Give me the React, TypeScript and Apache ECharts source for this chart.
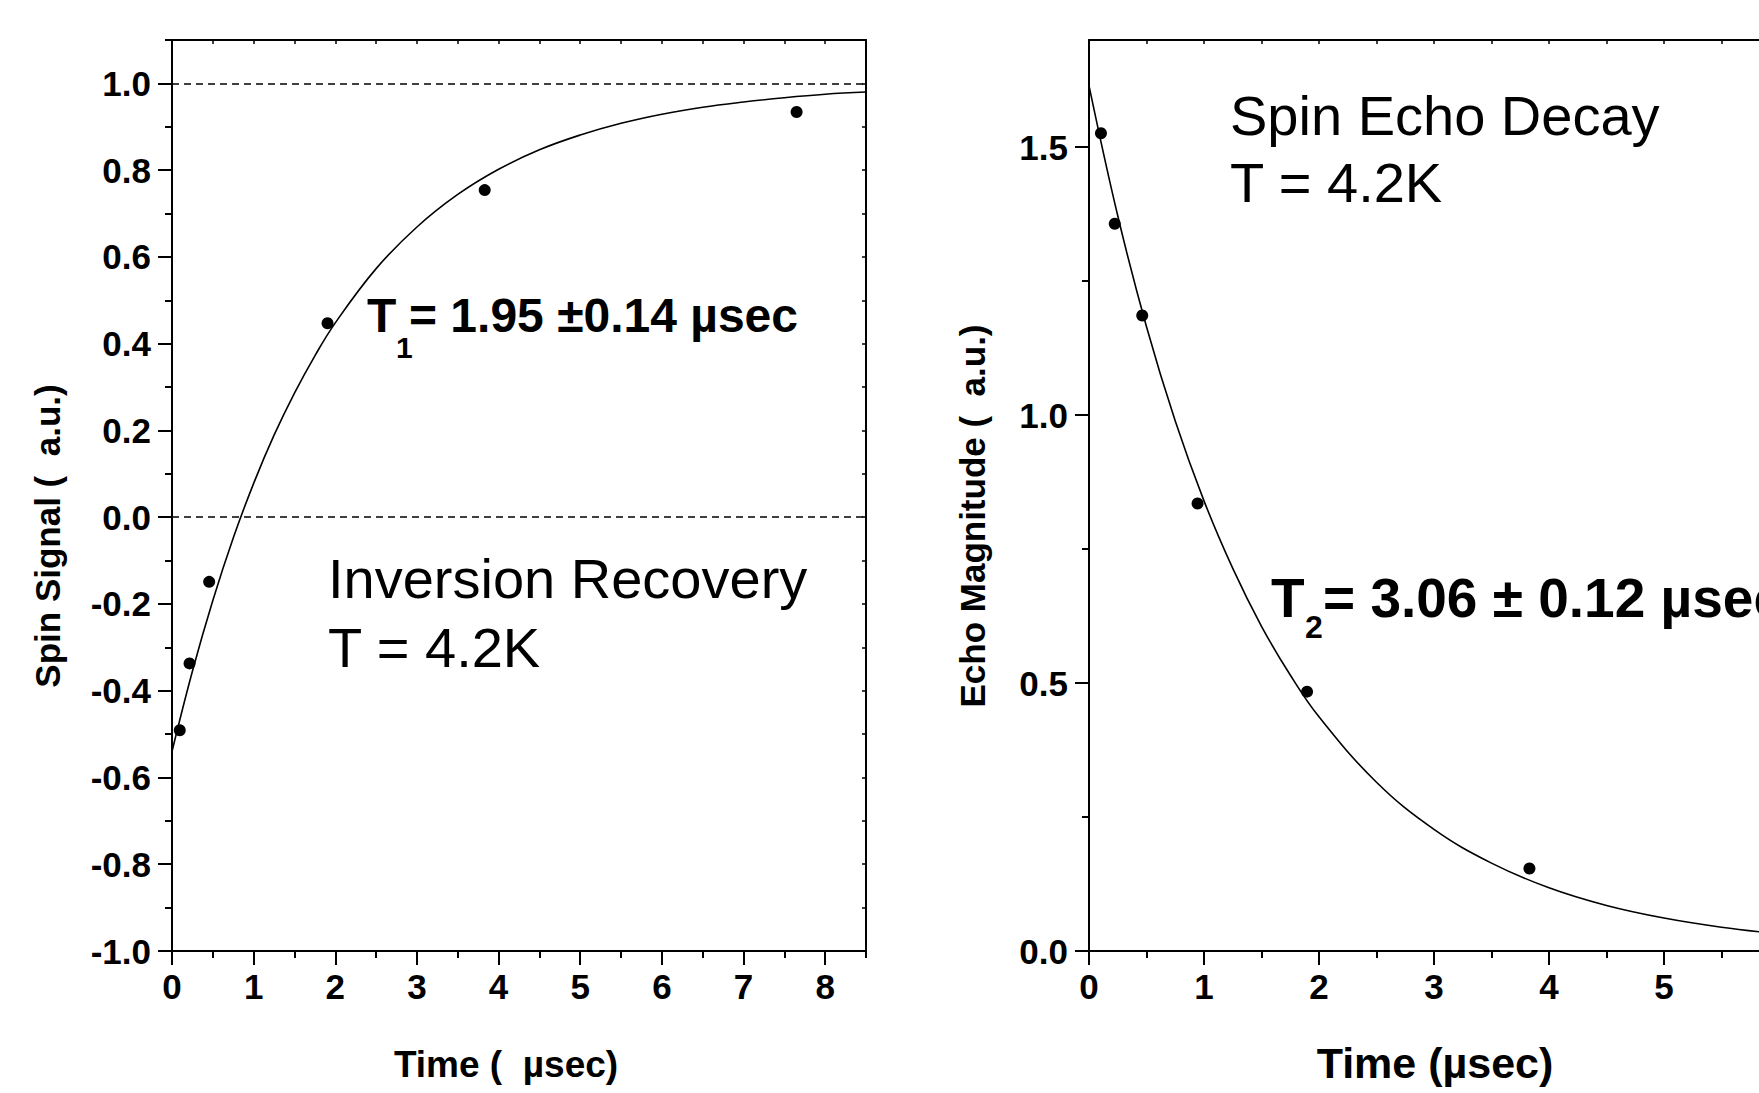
import React, { useEffect, useRef } from "react";
import * as echarts from "echarts";

// ---- Inversion recovery (left panel) ----
const irTime = [0.095, 0.215, 0.455, 1.905, 3.83, 7.65];
const irSignal = [-0.491, -0.337, -0.149, 0.447, 0.754, 0.934];
const irFitTime = [0, 0.25, 0.5, 0.75, 1, 1.25, 1.5, 1.75, 2, 2.5, 3, 3.5, 4, 4.5, 5, 5.5, 6, 6.5, 7, 7.5, 8, 8.5];
const irFitSignal = [-0.54, -0.355, -0.192, -0.048, 0.078, 0.189, 0.286, 0.372, 0.448, 0.573, 0.669, 0.744, 0.802, 0.847, 0.881, 0.908, 0.929, 0.945, 0.957, 0.967, 0.975, 0.98];
const irDashedLevels = [1.0, 0.0];
const irXTicks = [0, 1, 2, 3, 4, 5, 6, 7, 8];
const irXMinor = [0.5, 1.5, 2.5, 3.5, 4.5, 5.5, 6.5, 7.5, 8.5];
const irXTop = [0.5, 1, 1.5, 2, 2.5, 3, 3.5, 4, 4.5, 5, 5.5, 6, 6.5, 7, 7.5, 8];
const irYTicks = [-1.0, -0.8, -0.6, -0.4, -0.2, 0.0, 0.2, 0.4, 0.6, 0.8, 1.0];
const irYMinor = [-0.9, -0.7, -0.5, -0.3, -0.1, 0.1, 0.3, 0.5, 0.7, 0.9, 1.1];
const irYRight = [-0.9, -0.8, -0.7, -0.6, -0.5, -0.4, -0.3, -0.2, -0.1, 0.0, 0.1, 0.2, 0.3, 0.4, 0.5, 0.6, 0.7, 0.8, 0.9, 1.0];

// ---- Spin echo decay (right panel) ----
const seTime = [0.104, 0.224, 0.463, 0.944, 1.896, 3.83];
const seMagnitude = [1.526, 1.357, 1.186, 0.835, 0.484, 0.154];
const seFitTime = [0, 0.25, 0.5, 0.75, 1, 1.25, 1.5, 1.75, 2, 2.5, 3, 3.5, 4, 4.5, 5, 5.5, 6];
const seFitMagnitude = [1.615, 1.372, 1.165, 0.989, 0.84, 0.714, 0.606, 0.515, 0.437, 0.315, 0.227, 0.164, 0.118, 0.085, 0.0615, 0.0444, 0.032];
const seXTicks = [0, 1, 2, 3, 4, 5];
const seXMinor = [0.5, 1.5, 2.5, 3.5, 4.5, 5.5];
const seXTop = [0.5, 1, 1.5, 2, 2.5, 3, 3.5, 4, 4.5, 5, 5.5];
const seYTicks = [0.0, 0.5, 1.0, 1.5];
const seYMinor = [0.25, 0.75, 1.25];

const FONT = "'Liberation Sans', Arial, Helvetica, sans-serif";
const BLACK = "#000";
const TICK_FONT = 35;

function zip(xs: number[], ys: number[]) {
  return xs.map((x, i) => [x, ys[i]]);
}

function mainX(gridIndex: number, min: number, max: number, ticks: number[]) {
  return {
    type: "value", gridIndex, min, max, position: "bottom",
    axisLine: { show: true, onZero: false, lineStyle: { color: BLACK, width: 2 } },
    axisTick: { show: true, inside: false, length: 14, customValues: ticks, lineStyle: { color: BLACK, width: 2 } },
    axisLabel: {
      show: true, customValues: ticks, margin: 18, color: BLACK,
      fontFamily: FONT, fontWeight: "bold", fontSize: TICK_FONT,
      formatter: (v: number) => String(v),
    },
    splitLine: { show: false },
  };
}
function minorX(gridIndex: number, min: number, max: number, ticks: number[]) {
  return {
    type: "value", gridIndex, min, max, position: "bottom",
    axisLine: { show: false, onZero: false },
    axisTick: { show: true, inside: false, length: 7, customValues: ticks, lineStyle: { color: BLACK, width: 2 } },
    axisLabel: { show: false },
    splitLine: { show: false },
  };
}
function topX(gridIndex: number, min: number, max: number, ticks: number[]) {
  return {
    type: "value", gridIndex, min, max, position: "top",
    axisLine: { show: true, onZero: false, lineStyle: { color: BLACK, width: 2 } },
    axisTick: { show: true, inside: true, length: 4, customValues: ticks, lineStyle: { color: BLACK, width: 1.5 } },
    axisLabel: { show: false },
    splitLine: { show: false },
  };
}
function mainY(gridIndex: number, min: number, max: number, ticks: number[]) {
  return {
    type: "value", gridIndex, min, max, position: "left",
    axisLine: { show: true, onZero: false, lineStyle: { color: BLACK, width: 2 } },
    axisTick: { show: true, inside: false, length: 14, customValues: ticks, lineStyle: { color: BLACK, width: 2 } },
    axisLabel: {
      show: true, customValues: ticks, margin: 21, color: BLACK,
      fontFamily: FONT, fontWeight: "bold", fontSize: TICK_FONT,
      formatter: (v: number) => v.toFixed(1),
    },
    splitLine: { show: false },
  };
}
function minorY(gridIndex: number, min: number, max: number, ticks: number[]) {
  return {
    type: "value", gridIndex, min, max, position: "left",
    axisLine: { show: false, onZero: false },
    axisTick: { show: true, inside: false, length: 7, customValues: ticks, lineStyle: { color: BLACK, width: 2 } },
    axisLabel: { show: false },
    splitLine: { show: false },
  };
}
function rightY(gridIndex: number, min: number, max: number, ticks: number[]) {
  return {
    type: "value", gridIndex, min, max, position: "right",
    axisLine: { show: true, onZero: false, lineStyle: { color: BLACK, width: 2 } },
    axisTick: { show: ticks.length > 0, inside: true, length: 4, customValues: ticks, lineStyle: { color: BLACK, width: 1.5 } },
    axisLabel: { show: false },
    splitLine: { show: false },
  };
}

function txt(text: string, x: number, y: number, size: number, bold: boolean, align = "left", vAlign = "middle", rotation = 0, lineHeight?: number) {
  return {
    type: "text", x, y, rotation, z: 10,
    style: {
      text, fill: BLACK, fontFamily: FONT, fontSize: size,
      fontWeight: bold ? "bold" : "normal",
      align, textAlign: align, verticalAlign: vAlign, textVerticalAlign: vAlign,
      lineHeight: lineHeight ?? size,
    },
  };
}

export default function App() {
  const ref = useRef<HTMLDivElement>(null);
  useEffect(() => {
    if (!ref.current) return;
    const chart = echarts.init(ref.current, null, { renderer: "svg" });
    const option = {
      animation: false,
      backgroundColor: "#fff",
      grid: [
        { left: 172, top: 40, width: 694, height: 911 },
        { left: 1089, top: 40, width: 690, height: 911 },
      ],
      xAxis: [
        mainX(0, 0, 8.5, irXTicks),
        minorX(0, 0, 8.5, irXMinor),
        topX(0, 0, 8.5, irXTop),
        mainX(1, 0, 6, seXTicks),
        minorX(1, 0, 6, seXMinor),
        topX(1, 0, 6, seXTop),
      ],
      yAxis: [
        mainY(0, -1, 1.1, irYTicks),
        minorY(0, -1, 1.1, irYMinor),
        rightY(0, -1, 1.1, irYRight),
        mainY(1, 0, 1.7, seYTicks),
        minorY(1, 0, 1.7, seYMinor),
        rightY(1, 0, 1.7, []),
      ],
      series: [
        {
          name: "Inversion recovery fit", type: "line", xAxisIndex: 0, yAxisIndex: 0,
          data: zip(irFitTime, irFitSignal), smooth: 0.4, showSymbol: false, symbol: "none",
          lineStyle: { color: BLACK, width: 1.6 },
          markLine: {
            silent: true, symbol: "none", label: { show: false },
            lineStyle: { color: BLACK, width: 1.5, type: [7, 5] },
            data: irDashedLevels.map((v) => ({ yAxis: v })),
          },
        },
        {
          name: "Inversion recovery data", type: "scatter", xAxisIndex: 0, yAxisIndex: 0,
          data: zip(irTime, irSignal), symbol: "circle", symbolSize: 12,
          itemStyle: { color: BLACK, opacity: 1 },
        },
        {
          name: "Spin echo fit", type: "line", xAxisIndex: 3, yAxisIndex: 3,
          data: zip(seFitTime, seFitMagnitude), smooth: 0.4, showSymbol: false, symbol: "none",
          lineStyle: { color: BLACK, width: 1.6 },
        },
        {
          name: "Spin echo data", type: "scatter", xAxisIndex: 3, yAxisIndex: 3,
          data: zip(seTime, seMagnitude), symbol: "circle", symbolSize: 12,
          itemStyle: { color: BLACK, opacity: 1 },
        },
      ],
      graphic: [
        // axis titles
        txt("Spin Signal (  a.u.)", 47, 536, 35, true, "center", "middle", Math.PI / 2),
        txt("Time (  µsec)", 506, 1064, 37, true, "center", "middle"),
        txt("Echo Magnitude (  a.u.)", 972, 516, 35, true, "center", "middle", Math.PI / 2),
        txt("Time (µsec)", 1435, 1063, 43, true, "center", "middle"),
        // left annotations
        txt("T", 367, 332 - 0.3465 * 48, 48, true),
        txt("1", 396, 358 - 0.3465 * 30, 30, true),
        txt("= 1.95 ±0.14 µsec", 409, 332 - 0.3465 * 48, 48, true),
        txt("Inversion Recovery\nT = 4.2K", 328, 544, 56, false, "left", "top", 0, 69),
        // right annotations
        txt("Spin Echo Decay\nT = 4.2K", 1230, 82, 56, false, "left", "top", 0, 67),
        txt("T", 1271, 617 - 0.3465 * 55, 55, true),
        txt("2", 1305, 638 - 0.3465 * 32, 32, true),
        txt("= 3.06 ± 0.12 µsec", 1323, 617 - 0.3465 * 55, 55, true),
      ],
    };
    chart.setOption(option as any);
    return () => chart.dispose();
  }, []);
  return (
    <div style={{ position: "fixed", left: 0, top: 0, width: 1759, height: 1093, overflow: "hidden", background: "#fff" }}>
      <div ref={ref} style={{ width: 2000, height: 1093 }} />
    </div>
  );
}
